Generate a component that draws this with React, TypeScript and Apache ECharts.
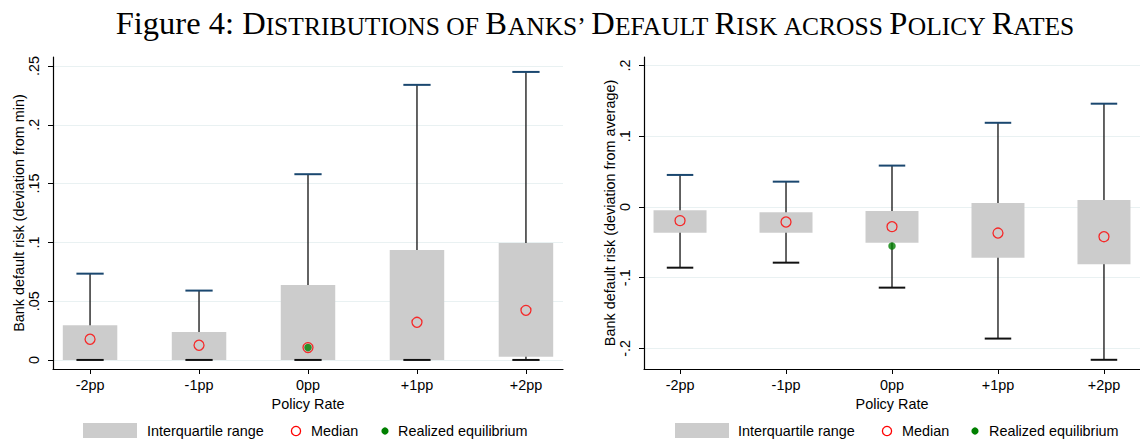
import { useEffect, useRef } from "react";
import * as echarts from "echarts";

// ---------- data ----------
const categories = ["-2pp", "-1pp", "0pp", "+1pp", "+2pp"];
const categoryIndex = [0, 1, 2, 3, 4];

const leftTickValues = [0, 0.05, 0.1, 0.15, 0.2, 0.25];
const leftTickLabels = ["0", ".05", ".1", ".15", ".2", ".25"];
const rightTickValues = [-0.2, -0.1, 0, 0.1, 0.2];
const rightTickLabels = ["-.2", "-.1", "0", ".1", ".2"];

// left panel: deviation from min
const leftQ1 = [0, 0, 0, 0, 0.0028];
const leftQ3 = [0.0295, 0.0238, 0.0638, 0.0935, 0.0995];
const leftLow = [0, 0, 0, 0, 0];
const leftHigh = [0.0734, 0.059, 0.158, 0.234, 0.245];
const leftMedian = [0.0176, 0.0125, 0.0105, 0.032, 0.0422];
const leftRealized = [[2, 0.0105]];

// right panel: deviation from average
const rightQ1 = [-0.0363, -0.0363, -0.0505, -0.0717, -0.081];
const rightQ3 = [-0.0047, -0.0075, -0.0057, 0.0057, 0.0099];
const rightLow = [-0.0858, -0.0787, -0.114, -0.186, -0.216];
const rightHigh = [0.0453, 0.0358, 0.0585, 0.119, 0.146];
const rightMedian = [-0.0193, -0.0212, -0.0278, -0.0368, -0.042];
const rightRealized = [[2, -0.0552]];

const legendLabels = ["Interquartile range", "Median", "Realized equilibrium"];
const xAxisName = "Policy Rate";
const leftYName = "Bank default risk (deviation from min)";
const rightYName = "Bank default risk (deviation from average)";

// ---------- styling ----------
const SANS = "Liberation Sans, Arial, sans-serif";
const SERIF = "Liberation Serif, Times New Roman, serif";
const FS = 14.4;
const GRID_COLOR = "#e9f1f2";
const BOX_COLOR = "#cccccc";
const CAP_COLOR = "#1a476f";

function labelFor(values: number[], labels: string[]) {
  return (v: number) => {
    const i = values.findIndex((t) => Math.abs(t - v) < 1e-9);
    return i >= 0 ? labels[i] : "";
  };
}

function renderBox(_params: any, api: any) {
  const x = api.value(0);
  const q1 = api.value(1);
  const q3 = api.value(2);
  const lo = api.value(3);
  const hi = api.value(4);
  const tl = api.coord([x - 0.25, q3]);
  const br = api.coord([x + 0.25, q1]);
  const top = api.coord([x, hi]);
  const bot = api.coord([x, lo]);
  const capL = api.coord([x - 0.125, hi])[0];
  const capR = api.coord([x + 0.125, hi])[0];
  return {
    type: "group",
    children: [
      {
        type: "line",
        shape: { x1: top[0], y1: top[1], x2: bot[0], y2: bot[1] },
        style: { stroke: "#222", lineWidth: 1.4 },
      },
      {
        type: "rect",
        shape: { x: tl[0], y: tl[1], width: br[0] - tl[0], height: br[1] - tl[1] },
        style: { fill: BOX_COLOR },
      },
      {
        type: "line",
        shape: { x1: capL, y1: top[1], x2: capR, y2: top[1] },
        style: { stroke: CAP_COLOR, lineWidth: 2 },
      },
      {
        type: "line",
        shape: { x1: capL, y1: bot[1], x2: capR, y2: bot[1] },
        style: { stroke: "#111", lineWidth: 2 },
      },
    ],
  };
}

function makeXAxis(gridIndex: number) {
  return {
    type: "value",
    gridIndex,
    min: -0.34,
    max: 4.34,
    axisLine: { show: true, onZero: false, lineStyle: { color: "#000", width: 1.2 } },
    axisTick: { show: true, customValues: categoryIndex, length: 5, lineStyle: { color: "#000", width: 1 } },
    axisLabel: {
      customValues: categoryIndex,
      formatter: (v: number) => categories[Math.round(v)],
      margin: 9,
      fontSize: FS,
      color: "#000",
      fontFamily: SANS,
    },
    splitLine: { show: false },
    name: xAxisName,
    nameLocation: "middle",
    nameGap: 24,
    nameTextStyle: { fontSize: FS, color: "#000", fontFamily: SANS },
  };
}

function makeYAxis(gridIndex: number, min: number, max: number, values: number[], labels: string[], name: string) {
  return {
    type: "value",
    gridIndex,
    min,
    max,
    axisLine: { show: true, onZero: false, lineStyle: { color: "#000", width: 1.2 } },
    axisTick: { show: true, customValues: values, length: 5, lineStyle: { color: "#000", width: 1 } },
    axisLabel: {
      customValues: values,
      formatter: labelFor(values, labels),
      rotate: 90,
      margin: 12,
      fontSize: FS,
      color: "#000",
      fontFamily: SANS,
    },
    splitLine: { show: true, lineStyle: { color: GRID_COLOR, width: 1 } },
    name,
    nameLocation: "middle",
    nameRotate: 90,
    nameGap: 26,
    nameTextStyle: { fontSize: FS, color: "#000", fontFamily: SANS },
  };
}

function boxData(q1: number[], q3: number[], lo: number[], hi: number[]) {
  return categoryIndex.map((i) => [i, q1[i], q3[i], lo[i], hi[i]]);
}

function legendGraphics(rectX: number, textX: number[], circleX: number, dotX: number) {
  const y = 431;
  const ts = { fontSize: FS, fontFamily: SANS, fill: "#000", verticalAlign: "middle", align: "left" };
  return [
    { type: "rect", shape: { x: rectX, y: 423, width: 54, height: 15 }, style: { fill: BOX_COLOR } },
    { type: "text", x: textX[0], y, style: { ...ts, text: legendLabels[0] } },
    { type: "circle", shape: { cx: circleX, cy: y, r: 4.6 }, style: { fill: "none", stroke: "#ff0000", lineWidth: 1.3 } },
    { type: "text", x: textX[1], y, style: { ...ts, text: legendLabels[1] } },
    { type: "circle", shape: { cx: dotX, cy: y, r: 3.6 }, style: { fill: "#008000" } },
    { type: "text", x: textX[2], y, style: { ...ts, text: legendLabels[2] } },
  ];
}

const titleText =
  "{n|Figure 4: }{c|D}{s|ISTRIBUTIONS }{s|OF }{c|B}{s|ANKS’ }{c|D}{s|EFAULT }{c|R}{s|ISK }{s|ACROSS }{c|P}{s|OLICY }{c|R}{s|ATES}";

export default function App() {
  const ref = useRef<HTMLDivElement>(null);
  useEffect(() => {
    if (!ref.current) return;
    const chart = echarts.init(ref.current, undefined, { renderer: "svg" });
    const big = { fontSize: 32.5, fontFamily: SERIF, color: "#000", verticalAlign: "bottom", lineHeight: 34 };
    const small = { fontSize: 25.5, fontFamily: SERIF, color: "#000", verticalAlign: "bottom", lineHeight: 34 };
    chart.setOption({
      animation: false,
      backgroundColor: "#fff",
      grid: [
        { left: 53, top: 57, width: 510, height: 312, containLabel: false },
        { left: 644, top: 57, width: 509, height: 312, containLabel: false },
      ],
      xAxis: [makeXAxis(0), makeXAxis(1)],
      yAxis: [
        makeYAxis(0, -0.0077, 0.2577, leftTickValues, leftTickLabels, leftYName),
        makeYAxis(1, -0.229, 0.212, rightTickValues, rightTickLabels, rightYName),
      ],
      series: [
        {
          type: "custom",
          xAxisIndex: 0,
          yAxisIndex: 0,
          renderItem: renderBox,
          data: boxData(leftQ1, leftQ3, leftLow, leftHigh),
          encode: { x: 0, y: [1, 2, 3, 4] },
          z: 2,
        },
        {
          type: "scatter",
          xAxisIndex: 0,
          yAxisIndex: 0,
          data: categoryIndex.map((i) => [i, leftMedian[i]]),
          symbol: "circle",
          symbolSize: 10,
          itemStyle: { color: "rgba(0,0,0,0)", borderColor: "#ff0000", borderWidth: 1.3 },
          z: 3,
        },
        {
          type: "scatter",
          xAxisIndex: 0,
          yAxisIndex: 0,
          data: leftRealized,
          symbol: "circle",
          symbolSize: 7.5,
          itemStyle: { color: "#008000" },
          z: 4,
        },
        {
          type: "custom",
          xAxisIndex: 1,
          yAxisIndex: 1,
          renderItem: renderBox,
          data: boxData(rightQ1, rightQ3, rightLow, rightHigh),
          encode: { x: 0, y: [1, 2, 3, 4] },
          z: 2,
        },
        {
          type: "scatter",
          xAxisIndex: 1,
          yAxisIndex: 1,
          data: categoryIndex.map((i) => [i, rightMedian[i]]),
          symbol: "circle",
          symbolSize: 10,
          itemStyle: { color: "rgba(0,0,0,0)", borderColor: "#ff0000", borderWidth: 1.3 },
          z: 3,
        },
        {
          type: "scatter",
          xAxisIndex: 1,
          yAxisIndex: 1,
          data: rightRealized,
          symbol: "circle",
          symbolSize: 7.5,
          itemStyle: { color: "#008000" },
          z: 4,
        },
      ],
      graphic: [
        {
          type: "text",
          x: 595,
          y: 22,
          style: {
            text: titleText,
            align: "center",
            verticalAlign: "middle",
            rich: { n: big, c: big, s: small },
          },
        },
        ...legendGraphics(83, [147, 311, 398], 296, 385),
        ...legendGraphics(675, [738, 902, 989], 887, 975),
      ],
    });
    return () => chart.dispose();
  }, []);
  return (
    <div
      ref={ref}
      style={{ position: "absolute", left: 0, top: 0, width: 1140, height: 439, overflow: "hidden" }}
    />
  );
}
